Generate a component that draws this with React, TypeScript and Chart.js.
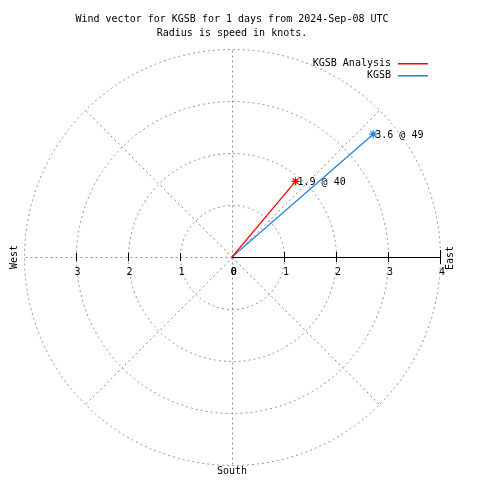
import React, { useEffect, useRef } from "react";
import { Chart, registerables } from "chart.js";

Chart.register(...registerables);

const titleLines = ["Wind vector for KGSB for 1 days from 2024-Sep-08 UTC", "Radius is speed in knots."];
const seriesNames = ["KGSB Analysis", "KGSB"];
const speeds = [1.9, 3.6];
const directions = [40, 49];
const radialTicks = [0, 1, 2, 3, 4];
const leftTicks = [3, 2, 1, 0];
const spokeAngles = [0, 45, 135, 180, 225, 270, 315];
const rMax = 4;

const seriesColors = ["#ff0000", "#1e80e8"];
const FONT = '10px "DejaVu Sans Mono", monospace';
const GRID = "#909090";

const toXY = (s: number, d: number) => {
  const a = (d * Math.PI) / 180;
  return { x: s * Math.sin(a), y: s * Math.cos(a) };
};

const polarPlugin = {
  id: "polarDecor",
  beforeDatasetsDraw(chart: any) {
    const { ctx, scales } = chart;
    const xs = scales.x, ys = scales.y;
    const cx = xs.getPixelForValue(0), cy = ys.getPixelForValue(0);
    const unit = xs.getPixelForValue(1) - cx;
    ctx.save();
    ctx.strokeStyle = GRID;
    ctx.lineWidth = 1;
    ctx.setLineDash([2, 3]);
    radialTicks.forEach((r) => {
      if (r === 0) return;
      ctx.beginPath();
      ctx.arc(cx + 0.5, cy + 0.5, r * unit, 0, Math.PI * 2);
      ctx.stroke();
    });
    spokeAngles.forEach((d) => {
      const p = toXY(rMax, d);
      ctx.beginPath();
      ctx.moveTo(cx + 0.5, cy + 0.5);
      ctx.lineTo(xs.getPixelForValue(p.x) + 0.5, ys.getPixelForValue(p.y) + 0.5);
      ctx.stroke();
    });
    ctx.setLineDash([]);
    ctx.strokeStyle = "#000";
    ctx.beginPath();
    ctx.moveTo(cx, cy + 0.5);
    ctx.lineTo(xs.getPixelForValue(rMax), cy + 0.5);
    ctx.stroke();
    radialTicks.forEach((r) => {
      if (r === 0) return;
      const px = Math.round(xs.getPixelForValue(r)) + 0.5;
      const h = r === rMax ? 7 : 5;
      ctx.beginPath();
      ctx.moveTo(px, cy - h);
      ctx.lineTo(px, cy + h);
      ctx.stroke();
    });
    leftTicks.forEach((r) => {
      if (r === 0) return;
      const px = Math.round(xs.getPixelForValue(-r)) + 0.5;
      ctx.beginPath();
      ctx.moveTo(px, cy - 4);
      ctx.lineTo(px, cy + 4);
      ctx.stroke();
    });
    ctx.restore();
  },
  afterDatasetsDraw(chart: any) {
    const { ctx, scales } = chart;
    const xs = scales.x, ys = scales.y;
    const cx = xs.getPixelForValue(0), cy = ys.getPixelForValue(0);
    ctx.save();
    ctx.font = FONT;
    ctx.fillStyle = "#000";
    ctx.textBaseline = "middle";
    ctx.textAlign = "center";
    titleLines.forEach((t, i) => ctx.fillText(t, cx, 19 + i * 14));
    radialTicks.forEach((r) => ctx.fillText(String(r), xs.getPixelForValue(r) + 2, cy + 15));
    leftTicks.forEach((r) => ctx.fillText(String(r), xs.getPixelForValue(-r) + 1.5, cy + 15));
    ctx.fillText("South", cx, ys.getPixelForValue(-rMax) + 6);
    const rot = (t: string, x: number, y: number) => {
      ctx.save();
      ctx.translate(x, y);
      ctx.rotate(-Math.PI / 2);
      ctx.fillText(t, 0, 0);
      ctx.restore();
    };
    rot("West", 14, cy);
    rot("East", xs.getPixelForValue(rMax) + 10, cy + 1);
    ctx.textAlign = "left";
    speeds.forEach((s, i) => {
      const p = toXY(s, directions[i]);
      ctx.fillText(
        `${s.toFixed(1)} @ ${directions[i]}`,
        xs.getPixelForValue(p.x) + 2,
        ys.getPixelForValue(p.y) + 1
      );
    });
    seriesNames.forEach((n, i) => {
      const y = 63 + i * 12;
      ctx.textAlign = "right";
      ctx.fillStyle = "#000";
      ctx.fillText(n, 391, y);
      ctx.fillStyle = seriesColors[i];
      ctx.fillRect(398, y, 30, 1.5);
    });
    ctx.restore();
  },
};

export default function App() {
  const ref = useRef<HTMLCanvasElement>(null);
  useEffect(() => {
    if (!ref.current) return;
    const datasets = speeds.map((s, i) => {
      const p = toXY(s, directions[i]);
      return {
        label: seriesNames[i],
        data: [{ x: 0, y: 0 }, p],
        showLine: true,
        borderColor: seriesColors[i],
        backgroundColor: seriesColors[i],
        borderWidth: 1.2,
        pointStyle: "star",
        pointRadius: [0, 4],
        pointBorderWidth: 1.2,
      };
    });
    const chart = new Chart(ref.current, {
      type: "scatter",
      data: { datasets },
      options: {
        animation: false,
        responsive: false,
        layout: { padding: { left: 24, right: 40, top: 49, bottom: 15 } },
        scales: {
          x: { type: "linear", min: -rMax, max: rMax, display: false },
          y: { type: "linear", min: -rMax, max: rMax, display: false },
        },
        plugins: { legend: { display: false }, tooltip: { enabled: false }, title: { display: false } },
      },
      plugins: [polarPlugin],
    } as any);
    return () => chart.destroy();
  }, []);
  return (
    <div style={{ position: "fixed", left: 0, top: 0, width: 480, height: 480, background: "#fff" }}>
      <canvas ref={ref} width={480} height={480} />
    </div>
  );
}
